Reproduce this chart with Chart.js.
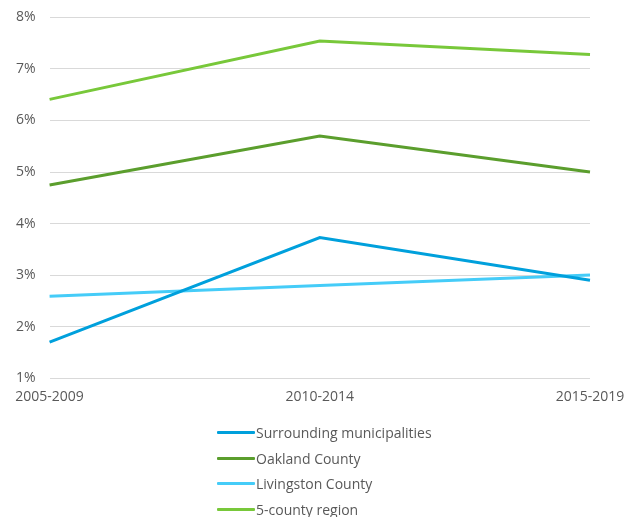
<!DOCTYPE html>
<html>
<head>
<meta charset="utf-8">
<script src="https://cdn.jsdelivr.net/npm/chart.js@4/dist/chart.umd.min.js"></script>
<style>
    html, body { margin: 0; padding: 0; background: #fff; overflow: hidden; }
    #wrap { position: relative; width: 638px; height: 517px; overflow: hidden; }
    #chart { position: absolute; left: 0; top: -5px; }
    #legend {
        position: absolute; left: 217px; top: 420px;
        font-family: "Open Sans", sans-serif; font-size: 14px; color: #595959;
    }
    .item { display: flex; align-items: center; height: 25.5px; }
    .swatch { width: 38px; height: 3px; margin-right: 1px; border-radius: 1px; }
</style>
</head>
<body>
<div id="wrap">
    <canvas id="chart" width="638" height="522"></canvas>
    <div id="legend"></div>
</div>
<script>
const periods = ['2005-2009', '2010-2014', '2015-2019'];

const surroundingMunicipalities = [1.70, 3.73, 2.90];
const oaklandCounty = [4.75, 5.70, 5.00];
const livingstonCounty = [2.59, 2.80, 3.00];
const fiveCountyRegion = [6.41, 7.54, 7.28];

const seriesNames = ['Surrounding municipalities', 'Oakland County', 'Livingston County', '5-county region'];
const seriesColors = ['#00A0DC', '#5B9E2D', '#45CCF8', '#78C83A'];
const seriesValues = [surroundingMunicipalities, oaklandCounty, livingstonCounty, fiveCountyRegion];

const yTicks = [1, 2, 3, 4, 5, 6, 7, 8];

Chart.defaults.font.family = '"Open Sans", sans-serif';
Chart.defaults.font.size = 14;
Chart.defaults.color = '#595959';

// builds the stacked legend below the plot
const htmlLegend = {
    id: 'htmlLegend',
    afterUpdate (chart) {
        const box = document.getElementById('legend');
        box.innerHTML = '';
        chart.data.datasets.forEach(ds => {
            const item = document.createElement('div');
            item.className = 'item';
            const swatch = document.createElement('span');
            swatch.className = 'swatch';
            swatch.style.background = ds.borderColor;
            const text = document.createElement('span');
            text.textContent = ds.label;
            item.appendChild(swatch);
            item.appendChild(text);
            box.appendChild(item);
        });
    }
};

new Chart(
    document.getElementById('chart'),
    {
        type: 'line',
        data: {
            labels: periods,
            datasets: seriesNames.map((name, i) => ({
                label: name,
                data: seriesValues[i],
                borderColor: seriesColors[i],
                backgroundColor: seriesColors[i],
                borderWidth: 3,
                pointRadius: 0,
                tension: 0
            }))
        },
        options: {
            responsive: false,
            animation: false,
            layout: {
                padding: { left: 2, right: 48, top: 0, bottom: 102 }
            },
            plugins: {
                legend: { display: false },
                tooltip: { enabled: false }
            },
            scales: {
                x: {
                    offset: false,
                    grid: { display: false, drawTicks: false },
                    border: { display: false },
                    ticks: { padding: 10, maxRotation: 0 }
                },
                y: {
                    min: yTicks[0],
                    max: yTicks[yTicks.length - 1],
                    afterBuildTicks: scale => {
                        scale.ticks = yTicks.map(v => ({ value: v }));
                    },
                    grid: { color: '#D9D9D9', lineWidth: 1, drawTicks: false },
                    border: { display: false },
                    ticks: {
                        padding: 14,
                        callback: v => v + '%'
                    }
                }
            }
        },
        plugins: [htmlLegend]
    }
);
</script>
</body>
</html>
